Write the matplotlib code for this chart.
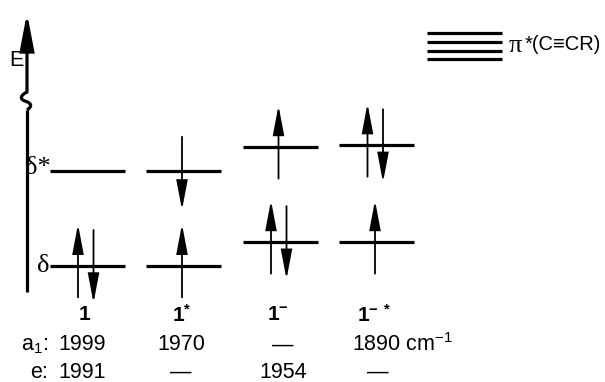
import matplotlib
matplotlib.use('Agg')
import matplotlib.pyplot as plt
from matplotlib.patches import FancyArrowPatch, PathPatch
from matplotlib.path import Path

plt.rcParams['font.family'] = ['Liberation Sans', 'DejaVu Sans']
plt.rcParams['mathtext.fontset'] = 'custom'
plt.rcParams['mathtext.rm'] = 'Liberation Sans'
plt.rcParams['mathtext.bf'] = 'Liberation Sans:bold'
plt.rcParams['mathtext.it'] = 'Liberation Sans:italic'

# ---- data ----
complex_labels = [r'$\mathbf{1}$', r'$\mathbf{1^{*}}$', r'$\mathbf{1^{-}}$', r'$\mathbf{1^{-\ *}}$']
delta_energy = [0.0, 0.0, 0.25, 0.25]
dstar_energy = [1.0, 1.0, 1.25, 1.27]
delta_occ = ['ud', 'u', 'ud', 'u']
dstar_occ = ['', 'd', 'u', 'ud']
pi_star_energy = [2.18, 2.265, 2.36, 2.45]
a1_freq = ['1999', '1970', '\u2014', r'1890 cm$^{-1}$']
e_freq = ['1991', '\u2014', '1954', '\u2014']

# ---- layout ----
W, H = 605, 382
fig = plt.figure(figsize=(W / 100, H / 100), dpi=100)
ax = fig.add_axes([0, 0, 1, 1])
ax.set_axis_off()
Y0, SC = 266.0, 95.0          # pixel row of E=0, pixels per energy unit
ax.set_xlim(0, W)
ax.set_ylim((Y0 - H) / SC, Y0 / SC)

def e(py):
    return (Y0 - py) / SC

col_x = [87, 183.5, 280, 376.5]
half_w = 37.5
LW_LEVEL = 2.3
serif = ['Liberation Serif', 'DejaVu Serif']
FS = 15.5

def arrow(x, y1, y2, hl=1.8, hw=0.34, lw=1.3):
    a = FancyArrowPatch((x, y1), (x, y2),
                        arrowstyle=f'-|>,head_length={hl},head_width={hw}',
                        mutation_scale=10, lw=lw, color='black',
                        shrinkA=0, shrinkB=0, joinstyle='miter')
    ax.add_patch(a)

def electrons(x, E, occ):
    if occ == 'u':
        arrow(x - 1.5, E - 0.33, E + 0.44)
    elif occ == 'd':
        arrow(x - 1.5, E + 0.36, E - 0.41)
    elif occ == 'ud':
        arrow(x - 9, E - 0.33, E + 0.44)
        arrow(x + 6.5, E + 0.38, E - 0.39)

for i, cx in enumerate(col_x):
    for E in (delta_energy[i], dstar_energy[i]):
        ax.plot([cx - half_w, cx + half_w], [E, E], color='black', lw=LW_LEVEL,
                solid_capstyle='butt')
    electrons(cx, delta_energy[i], delta_occ[i])
    electrons(cx, dstar_energy[i], dstar_occ[i])
    ax.text(cx - 2, e(315), complex_labels[i], ha='center', va='center', fontsize=15)

# level labels
ax.text(51, dstar_energy[0] + 0.03, '\u03b4*', ha='right', va='center', fontsize=19,
        family=serif)
ax.text(50, delta_energy[0] - 0.0, '\u03b4', ha='right', va='center', fontsize=19,
        family=serif)

# energy axis
ax.plot([27, 27], [e(292), e(110)], color='black', lw=2.3, solid_capstyle='butt')
verts = [(27, e(110)), (33, e(106)), (31, e(103)), (25, e(101)),
         (19, e(99)), (21, e(95)), (27, e(92))]
codes = [Path.MOVETO] + [Path.CURVE4] * 6
ax.add_patch(PathPatch(Path(verts, codes), fill=False, lw=2.3, color='black'))
arrow(27, e(92), e(13), hl=2.2, hw=0.42, lw=2.3)
ax.text(16, e(60), 'E', ha='center', va='center', fontsize=15.5)

# pi* manifold
for E in pi_star_energy:
    ax.plot([427, 502], [E, E], color='black', lw=2.3, solid_capstyle='butt')
ax.text(509, e(46), '\u03c0', ha='left', va='center', fontsize=19, family=serif)
ax.text(525, e(45), '*(C\u2261CR)', ha='left', va='center', fontsize=14.5,
        family=['Liberation Sans', 'DejaVu Sans'])

# frequency rows
val_x = [82, 181, 283, 378]
ax.text(48, e(345), r'a$_1$:', ha='right', va='center', fontsize=FS)
ax.text(48, e(372), 'e:', ha='right', va='center', fontsize=FS)
for i, x in enumerate(val_x):
    if i == 3:
        ax.text(352, e(345), a1_freq[i], ha='left', va='center', fontsize=FS)
    else:
        ax.text(x, e(345), a1_freq[i], ha='center', va='center', fontsize=FS)
    ax.text(x, e(372), e_freq[i], ha='center', va='center', fontsize=FS)

fig.savefig('out.png', dpi=100)
